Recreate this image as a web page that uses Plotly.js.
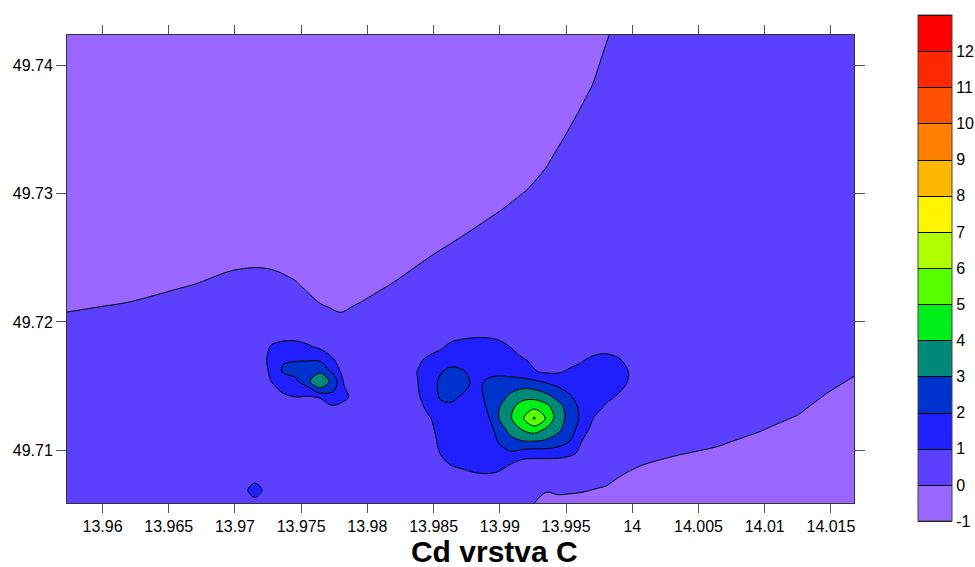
<!DOCTYPE html>
<html><head><meta charset="utf-8">
<script src="https://cdn.plot.ly/plotly-3.0.1.min.js"></script>
<style>
html,body{margin:0;padding:0;background:#fff}
#chart{width:975px;height:567px}
</style>
</head><body><div id="chart"></div>
<script>
// ---- band colours for levels -1..13 (one per 1-unit band) ----
const bandColors = ['#9966FF','#5C40FF','#2020FF','#0033CC','#008878','#00EE1A','#55FF00',
                    '#B0FF00','#FFF500','#FFB800','#FF8000','#FF5000','#FF2800','#FF0000'];
const levelStart = -1, levelEnd = 13, levelStep = 1;
const cbTicks = [-1,0,1,2,3,4,5,6,7,8,9,10,11,12];

const xTicks = [13.96,13.965,13.97,13.975,13.98,13.985,13.99,13.995,14,14.005,14.01,14.015];
const xTickText = ['13.96','13.965','13.97','13.975','13.98','13.985','13.99','13.995','14','14.005','14.01','14.015'];
const yTicks = [49.71,49.72,49.73,49.74];
const yTickText = ['49.71','49.72','49.73','49.74'];
const chartTitle = 'Cd vrstva C';

// ---- northern part of the field (upper-left boundary) ----
const northX = [13.9572,13.962,13.967,13.970,13.9725,13.9745,13.9765,13.978,13.9795,13.982,13.985,
                13.988,13.990,13.992,13.9935,13.995,13.996,13.997,13.998,13.999,14.00058];
const northY = [49.7200,49.7212,49.7226,49.7242,49.7260,49.7280,49.7300,49.7325,49.7350,49.7375,49.7400,49.7425];
const northZ = [
 [0.15,0.31,0.5,0.5,0.5,0.5,0.28,0.15,0.31,0.5,0.5,0.5,0.5,0.5,0.5,0.5,0.5,0.5,0.5,0.5,0.5],
 [-0.09,0.07,0.35,0.5,0.5,0.41,0.04,-0.09,0.07,0.38,0.5,0.5,0.5,0.5,0.5,0.5,0.5,0.5,0.5,0.5,0.5],
 [-0.37,-0.21,0.07,0.29,0.32,0.13,-0.25,-0.37,-0.21,0.10,0.5,0.5,0.5,0.5,0.5,0.5,0.5,0.5,0.5,0.5,0.5],
 [-0.69,-0.53,-0.25,-0.03,-0.01,-0.19,-0.57,-0.69,-0.53,-0.22,0.22,0.5,0.5,0.5,0.5,0.5,0.5,0.5,0.5,0.5,0.5],
 [-0.9,-0.9,-0.61,-0.40,-0.36,-0.55,-0.9,-0.9,-0.9,-0.58,-0.15,0.25,0.5,0.5,0.5,0.5,0.5,0.5,0.5,0.5,0.5],
 [-0.9,-0.9,-0.9,-0.80,-0.77,-0.9,-0.9,-0.9,-0.9,-0.9,-0.55,-0.15,0.13,0.45,0.5,0.5,0.5,0.5,0.5,0.5,0.5],
 [-0.9,-0.9,-0.9,-0.9,-0.9,-0.9,-0.9,-0.9,-0.9,-0.9,-0.9,-0.55,-0.28,0.05,0.41,0.5,0.5,0.5,0.5,0.5,0.5],
 [-0.9,-0.9,-0.9,-0.9,-0.9,-0.9,-0.9,-0.9,-0.9,-0.9,-0.9,-0.9,-0.78,-0.45,-0.09,0.43,0.5,0.5,0.5,0.5,0.5],
 [-0.9,-0.9,-0.9,-0.9,-0.9,-0.9,-0.9,-0.9,-0.9,-0.9,-0.9,-0.9,-0.9,-0.9,-0.59,-0.07,0.30,0.5,0.5,0.5,0.5],
 [-0.9,-0.9,-0.9,-0.9,-0.9,-0.9,-0.9,-0.9,-0.9,-0.9,-0.9,-0.9,-0.9,-0.9,-0.9,-0.57,-0.20,0.20,0.5,0.5,0.5],
 [-0.9,-0.9,-0.9,-0.9,-0.9,-0.9,-0.9,-0.9,-0.9,-0.9,-0.9,-0.9,-0.9,-0.9,-0.9,-0.9,-0.70,-0.30,0.31,0.5,0.5],
 [-0.9,-0.9,-0.9,-0.9,-0.9,-0.9,-0.9,-0.9,-0.9,-0.9,-0.9,-0.9,-0.9,-0.9,-0.9,-0.9,-0.9,-0.78,-0.17,0.39,0.5]
];

// ---- south-east part (main hot spot + lower-right boundary) ----
const seX = [13.98276,13.9838,13.9847,13.9855,13.9863,13.9872,13.9881,13.9890,13.9899,13.9908,13.9917,
             13.9926,13.9935,13.9944,13.9953,13.9962,13.9971,13.9980,13.9989,13.9998,14.0010,
             14.0035,14.0065,14.0095,14.0125,14.0147,14.0168];
const seY = [49.7058,49.7071,49.7080,49.7089,49.7098,49.7107,49.7116,49.7125,49.7134,49.7143,
             49.7152,49.7161,49.7170,49.7179,49.7188,49.7196];
const seZ = [
 [0.5,0.5,0.5,0.5,0.5,0.5,0.5,0.5,0.5,0.5,0.15,-0.01,-0.17,-0.13,-0.15,-0.17,-0.21,-0.26,-0.38,-0.49,-0.6,-0.74,-0.88,-0.9,-0.9,-0.9,-0.9],
 [0.5,0.5,0.5,0.5,0.5,0.5,0.5,0.5,0.5,0.5,0.38,0.23,0.07,0.10,0.09,0.07,0.025,-0.02,-0.15,-0.26,-0.37,-0.51,-0.65,-0.87,-0.9,-0.9,-0.9],
 [0.5,0.5,0.5,0.5,0.81,0.855,0.95,0.97,0.95,0.8,0.55,0.41,0.25,0.28,0.27,0.25,0.21,0.16,0.03,-0.075,-0.18,-0.33,-0.47,-0.68,-0.9,-0.9,-0.9],
 [0.5,0.5,0.5,0.75,1.02,1.1,1.12,1.12,1.08,0.995,0.55,0.5,0.5,0.5,0.35,0.43,0.39,0.34,0.21,0.10,-0.005,-0.15,-0.29,-0.50,-0.77,-0.9,-0.9],
 [0.5,0.5,0.6,1.03,1.2,1.25,1.3,1.4,1.75,1.9,1.6,1.5,1.5,1.45,1.25,0.75,0.5,0.5,0.39,0.29,0.18,0.036,-0.10,-0.32,-0.59,-0.9,-0.9],
 [0.5,0.5,0.75,1.12,1.3,1.3,1.35,1.5,2.05,2.6,2.95,2.98,2.85,2.5,1.98,0.98,0.55,0.5,0.5,0.47,0.36,0.22,0.075,-0.14,-0.41,-0.75,-0.9],
 [0.5,0.5,0.85,1.2,1.35,1.35,1.4,1.55,2.3,3.4,4.02,4.45,3.8,3.2,2.4,1.5,0.6,0.55,0.5,0.5,0.5,0.40,0.26,0.04,-0.23,-0.57,-0.84],
 [0.5,0.55,0.95,1.35,1.5,1.45,1.5,1.7,2.97,3.9,4.85,6.15,4.9,3.48,2.6,1.75,0.97,0.6,0.5,0.5,0.5,0.5,0.44,0.22,-0.05,-0.39,-0.66],
 [0.5,0.7,1.3,1.85,1.85,1.6,1.5,2.05,2.9,3.7,4.5,4.7,4.3,3.35,2.5,1.7,1.4,0.9,0.65,0.5,0.5,0.5,0.5,0.40,0.13,-0.21,-0.48],
 [0.5,0.9,1.55,2.1,2.25,1.95,1.65,2.15,2.55,3.1,3.5,3.55,3.15,2.6,2.01,1.6,1.5,1.3,0.97,0.6,0.5,0.5,0.5,0.5,0.31,-0.03,-0.30],
 [0.5,0.98,1.6,2.15,2.35,2.3,1.8,2.1,2.4,2.55,2.6,2.4,2.05,1.75,1.7,1.65,1.6,1.5,1.3,0.9,0.5,0.5,0.5,0.5,0.5,0.15,-0.12],
 [0.55,1.03,1.45,1.95,2.2,2.05,1.85,1.85,1.8,1.6,1.35,1.06,0.9,0.92,1.13,1.4,1.55,1.6,1.45,0.95,0.5,0.5,0.5,0.5,0.5,0.33,0.06],
 [0.5,0.85,1.25,1.5,1.75,1.8,1.75,1.7,1.55,1.35,1.1,0.85,0.7,0.7,0.75,0.93,1.3,1.35,1.15,0.7,0.5,0.5,0.5,0.5,0.5,0.5,0.25],
 [0.5,0.55,0.7,0.95,1.25,1.4,1.5,1.5,1.35,1.05,0.7,0.6,0.5,0.5,0.5,0.5,0.6,0.75,0.6,0.5,0.5,0.5,0.5,0.5,0.5,0.5,0.43],
 [0.5,0.5,0.5,0.6,0.82,0.93,0.98,0.98,0.89,0.73,0.55,0.5,0.5,0.5,0.5,0.5,0.5,0.5,0.5,0.5,0.5,0.5,0.5,0.5,0.5,0.5,0.5],
 [0.5,0.5,0.5,0.5,0.5,0.5,0.5,0.5,0.5,0.5,0.5,0.5,0.5,0.5,0.5,0.5,0.5,0.5,0.5,0.5,0.5,0.5,0.5,0.5,0.5,0.5,0.5]
];

// ---- western hot spot ----
const westX = [13.97189,13.97280,13.97370,13.97461,13.97552,13.97642,13.97733,13.97823,13.97914];
const westY = [49.71249,49.71335,49.71413,49.71475,49.71538,49.71623,49.71717,49.71810,49.71904];
const westZ = [
 [0.5,0.5,0.5,0.5,0.5,0.5,0.5,0.5,0.5],
 [0.5,0.5,0.5,0.5,0.5,0.5,0.88,0.55,0.5],
 [0.5,0.5,0.8,0.98,0.9,1.05,1.5,1.3,0.5],
 [0.5,0.75,1.25,1.4,1.6,2.9,2.3,1.1,0.5],
 [0.5,1.05,1.5,1.8,2.9,3.45,2.85,0.9,0.5],
 [0.5,1.25,2.2,2.4,2.5,2.85,1.8,0.55,0.5],
 [0.6,1.3,1.8,1.85,1.85,1.7,1.05,0.6,0.5],
 [0.5,1.1,1.4,1.4,1.1,0.8,0.5,0.5,0.5],
 [0.5,0.5,0.5,0.5,0.5,0.5,0.5,0.5,0.5]
];

// ---- small spot near the bottom ----
const smallX = [13.97061,13.97151,13.97242];
const smallY = [49.70595,49.70688,49.70782];
const smallZ = [
 [0.5,0.5,0.5],
 [0.5,1.75,0.5],
 [0.5,0.5,0.5]
];

// colour scale: piecewise constant bands sampled at band centres
function makeScale(colors) {
  const n = colors.length;
  const s = [[0, colors[0]]];
  colors.forEach((c, k) => s.push([(k + 0.5) / n, c]));
  s.push([1, colors[n - 1]]);
  return s;
}
const colorscale = makeScale(bandColors);
// spots that never go below 0: the (unused) lowest band takes the surrounding 0..1 colour
const colorscaleSpots = makeScale([bandColors[1]].concat(bandColors.slice(1)));

const FONT = '"Liberation Sans", Arial, sans-serif';

function contourTrace(x, y, z, scale, showscale) {
  return {
    type: 'contour', x: x, y: y, z: z,
    zmin: levelStart, zmax: levelEnd, autocontour: false,
    contours: {start: levelStart, end: levelEnd, size: levelStep, coloring: 'fill', showlines: true},
    line: {color: '#000', width: 1, smoothing: 1},
    colorscale: scale, showscale: showscale, hoverinfo: 'skip',
    colorbar: {
      thickness: 34, thicknessmode: 'pixels', len: 506, lenmode: 'pixels',
      x: 1.0813, xanchor: 'left', xpad: 0, y: 0.502, yanchor: 'middle', ypad: 0,
      outlinewidth: 1, outlinecolor: '#444',
      tickmode: 'array', tickvals: cbTicks, ticktext: cbTicks.map(String),
      ticks: 'outside', ticklen: 1, tickcolor: 'rgba(0,0,0,0)',
      tickfont: {family: FONT, size: 16, color: '#000'}
    }
  };
}

const data = [
  contourTrace(northX, northY, northZ, colorscale, true),
  contourTrace(seX, seY, seZ, colorscale, false),
  contourTrace(westX, westY, westZ, colorscaleSpots, false),
  contourTrace(smallX, smallY, smallZ, colorscaleSpots, false)
];

const axisCommon = {
  tickmode: 'array', ticks: 'outside', tickwidth: 1, tickcolor: '#555',
  showline: true, linecolor: '#333', linewidth: 1, mirror: 'ticks',
  showgrid: false, zeroline: false,
  tickfont: {family: FONT, size: 16, color: '#000'}
};

const layout = {
  width: 975, height: 567,
  margin: {l: 67, r: 121, t: 35, b: 64, pad: 0, autoexpand: false},
  paper_bgcolor: '#ffffff', plot_bgcolor: bandColors[1],
  showlegend: false,
  title: {
    text: '<b>' + chartTitle + '</b>',
    font: {family: FONT, size: 30, color: '#000'},
    xref: 'container', x: 0.507, xanchor: 'center',
    yref: 'container', y: 0.027, yanchor: 'middle'
  },
  xaxis: Object.assign({}, axisCommon, {
    range: [13.95732, 14.01674], tickvals: xTicks, ticktext: xTickText, ticklen: 9
  }),
  yaxis: Object.assign({}, axisCommon, {
    range: [49.70589, 49.74236], tickvals: yTicks, ticktext: yTickText, ticklen: 10
  })
};

Plotly.newPlot('chart', data, layout, {staticPlot: true, displayModeBar: false});
</script></body></html>
